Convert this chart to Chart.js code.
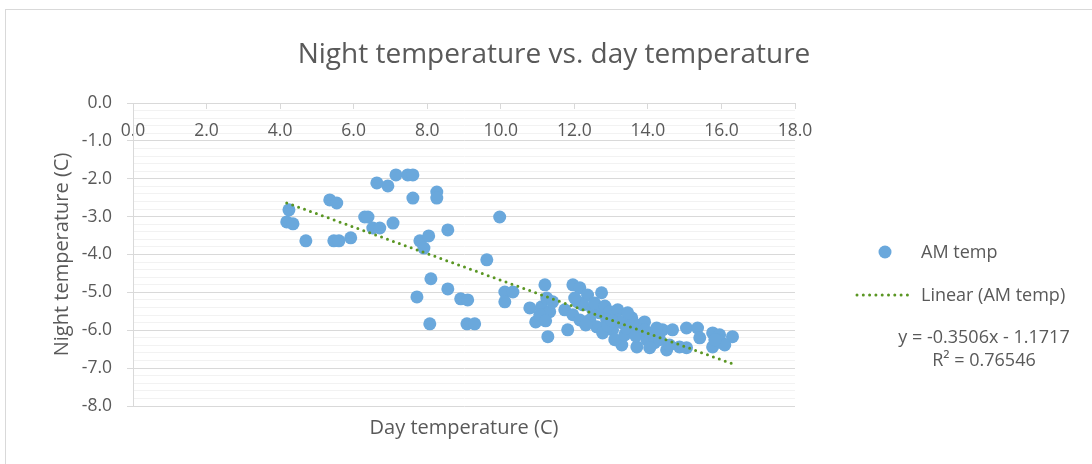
<!DOCTYPE html>
<html>
<head>
<meta charset="utf-8">
<title>Night temperature vs. day temperature</title>
<script src="https://cdn.jsdelivr.net/npm/chart.js@4.4.1/dist/chart.umd.min.js"></script>
<style>
  html, body { margin: 0; padding: 0; background: #fff; }
</style>
</head>
<body>
<canvas id="tempChart" width="1092" height="464"></canvas>
<script>
// day temperature (x) and AM / night temperature (y)
const dayTemp = [
  4.24, 4.18, 4.35, 4.70, 5.35, 5.54, 5.46, 5.60, 5.92, 6.63, 6.93, 7.15, 7.47, 7.61, 7.61,
  6.30, 6.39, 6.52, 6.71, 7.07, 8.26, 8.26, 7.80, 8.04, 7.91, 8.56, 9.97, 9.62, 8.10, 8.56,
  7.72, 8.91, 9.10, 8.07, 9.08, 9.29,
  10.11, 10.33, 10.11,
  11.20, 10.79, 10.95, 11.11, 11.25, 11.33, 11.41, 11.28, 11.06, 11.22, 11.74,
  11.96, 12.15, 12.36, 12.74, 12.09, 12.23, 11.96, 12.15, 11.82, 12.50, 12.69, 12.42, 12.61, 12.31, 12.01,
  12.55, 12.83,
  12.96, 13.18, 12.77, 13.04, 13.29, 13.56, 13.59, 13.29, 13.70, 12.88, 13.10, 13.37, 13.45, 13.78, 12.91, 13.18,
  13.02, 13.42, 13.67, 13.91,
  13.97, 14.13, 14.40, 14.67, 14.51, 14.86, 15.05, 15.05, 15.35, 15.41, 13.91, 14.18, 14.32, 14.59, 14.05, 14.24,
  15.76, 15.95, 15.76, 16.01, 16.30, 15.90, 16.09, 15.82
];
const nightTemp = [
  -2.82, -3.14, -3.19, -3.64, -2.56, -2.64, -3.64, -3.64, -3.56, -2.11, -2.19, -1.90, -1.90, -1.90, -2.51,
  -3.01, -3.01, -3.30, -3.30, -3.17, -2.35, -2.51, -3.64, -3.51, -3.83, -3.35, -3.01, -4.14, -4.64, -4.91,
  -5.12, -5.17, -5.20, -5.83, -5.83, -5.83,
  -4.99, -4.99, -5.25,
  -4.80, -5.41, -5.78, -5.38, -5.15, -5.51, -5.25, -6.17, -5.59, -5.75, -5.46,
  -4.80, -4.88, -5.07, -5.01, -5.25, -5.33, -5.59, -5.73, -5.99, -5.46, -5.54, -5.73, -5.91, -5.86, -5.15,
  -5.28, -5.36,
  -5.51, -5.46, -6.07, -5.99, -5.80, -5.67, -5.91, -6.39, -6.44, -5.73, -6.25, -6.12, -5.54, -5.86, -5.88, -5.73,
  -5.75, -5.94, -6.15, -5.78,
  -6.25, -6.07, -5.99, -5.99, -6.52, -6.44, -6.46, -5.94, -5.94, -6.20, -5.99, -6.33, -6.25, -6.39, -6.46, -5.94,
  -6.07, -6.12, -6.44, -6.33, -6.17, -6.25, -6.39, -6.25
];

// trendline as printed on the chart
const trendSlope = -0.3506;
const trendIntercept = -1.1717;
const rSquared = '0.76546';

const xAxisRange = [0, 18];
const yAxisRange = [-8, 0];

const textColor = '#595959';
const gridMajor = '#d9d9d9';
const gridMinor = '#f2f2f2';
const pointBlue = '#6aa8dc';
const trendGreen = '#5a9623';

const points = dayTemp.map((d, i) => ({ x: d, y: nightTemp[i] }));
const minDay = Math.min(...dayTemp);
const maxDay = Math.max(...dayTemp);
const trendPoints = [minDay, maxDay].map(d => ({ x: d, y: trendSlope * d + trendIntercept }));

function isMajor(v) {
  return Math.abs(v - Math.round(v)) < 1e-6;
}

// title, legend and equation drawn where Excel puts them
const excelText = {
  id: 'excelText',
  beforeDraw(chart) {
    const ctx = chart.ctx;
    ctx.save();
    ctx.fillStyle = '#fff';
    ctx.fillRect(0, 0, chart.width, chart.height);
    ctx.strokeStyle = gridMajor;
    ctx.lineWidth = 1;
    ctx.strokeRect(5.5, 9.5, chart.width + 20, chart.height + 20);
    ctx.restore();
  },
  afterDraw(chart) {
    const ctx = chart.ctx;
    ctx.save();
    ctx.fillStyle = textColor;
    ctx.font = '28px "Open Sans"';
    ctx.textAlign = 'center';
    ctx.textBaseline = 'middle';
    ctx.fillText('Night temperature vs. day temperature', 554, 55);

    // legend
    ctx.beginPath();
    ctx.arc(885, 252, 6.5, 0, Math.PI * 2);
    ctx.fillStyle = pointBlue;
    ctx.fill();

    ctx.beginPath();
    ctx.setLineDash([0, 6.3]);
    ctx.lineCap = 'round';
    ctx.lineWidth = 3;
    ctx.strokeStyle = trendGreen;
    ctx.moveTo(857, 295);
    ctx.lineTo(913, 295);
    ctx.stroke();
    ctx.setLineDash([]);

    ctx.fillStyle = textColor;
    ctx.font = '18px "Open Sans"';
    ctx.textAlign = 'left';
    ctx.fillText('AM temp', 921, 253);
    ctx.fillText('Linear (AM temp)', 921, 296);

    ctx.textAlign = 'center';
    ctx.fillText('y = ' + trendSlope + 'x - ' + Math.abs(trendIntercept), 984, 338);
    ctx.fillText('R\u00b2 = ' + rSquared, 984, 361);
    ctx.restore();
  }
};

Chart.defaults.font.family = '"Open Sans"';
Chart.defaults.color = textColor;

new Chart(document.getElementById('tempChart'), {
  type: 'scatter',
  data: {
    datasets: [
      {
        label: 'Linear (AM temp)',
        type: 'line',
        data: trendPoints,
        showLine: true,
        pointRadius: 0,
        borderColor: trendGreen,
        borderWidth: 3,
        borderDash: [0, 6.3],
        borderCapStyle: 'round',
        fill: false,
        order: 0
      },
      {
        label: 'AM temp',
        data: points,
        pointRadius: 6.5,
        pointBackgroundColor: pointBlue,
        pointBorderWidth: 0,
        order: 1
      }
    ]
  },
  options: {
    responsive: false,
    animation: false,
    devicePixelRatio: 1,
    layout: { padding: { top: 103, right: 297, bottom: 0, left: 0 } },
    plugins: {
      legend: { display: false },
      title: { display: false },
      tooltip: { enabled: false }
    },
    scales: {
      x: {
        type: 'linear',
        position: { y: 0 },
        min: xAxisRange[0],
        max: xAxisRange[1],
        ticks: {
          stepSize: 2,
          padding: 12.5,
          font: { size: 17.5 },
          color: textColor,
          callback: v => v.toFixed(1)
        },
        grid: { drawOnChartArea: false, drawTicks: true, tickLength: 5, tickColor: gridMajor },
        border: { color: gridMajor }
      },
      x2: {
        type: 'linear',
        position: 'bottom',
        min: xAxisRange[0],
        max: xAxisRange[1],
        ticks: { display: false },
        grid: { display: false, drawTicks: false },
        border: { display: false },
        title: {
          display: true,
          text: 'Day temperature (C)',
          font: { size: 20 },
          color: textColor,
          padding: { top: 10, bottom: 24 }
        }
      },
      y: {
        type: 'linear',
        position: 'left',
        min: yAxisRange[0],
        max: yAxisRange[1],
        afterFit(scale) {
          scale.width = 133;
        },
        ticks: {
          stepSize: 0.2,
          autoSkip: false,
          padding: 15,
          font: { size: 17.5 },
          color: textColor,
          callback: v => (isMajor(v) ? v.toFixed(1) : '')
        },
        grid: {
          color: c => (isMajor(c.tick.value) ? gridMajor : gridMinor),
          tickColor: c => (isMajor(c.tick.value) ? gridMajor : 'transparent'),
          tickLength: 6
        },
        border: { color: gridMajor },
        title: {
          display: true,
          text: 'Night temperature (C)',
          font: { size: 20 },
          color: textColor,
          padding: { top: 50, bottom: 0 }
        }
      }
    }
  },
  plugins: [excelText]
});
</script>
</body>
</html>
